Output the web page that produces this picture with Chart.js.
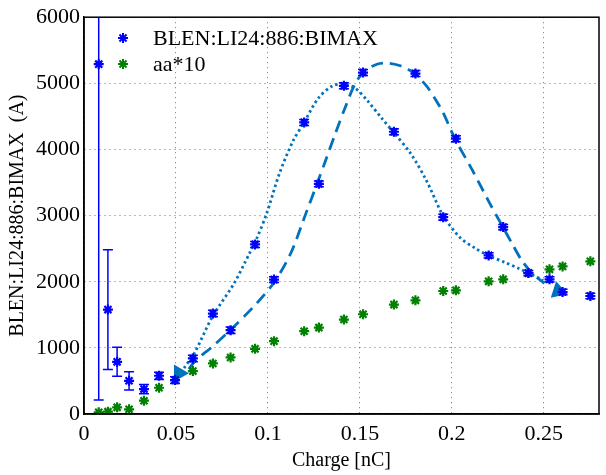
<!DOCTYPE html>
<html>
<head>
<meta charset="utf-8">
<script src="https://cdn.jsdelivr.net/npm/chart.js@4/dist/chart.umd.min.js"></script>
<style>
  html, body { margin: 0; padding: 0; background: #fff; overflow: hidden; }
</style>
</head>
<body>
<canvas id="chart" width="609" height="475"></canvas>
<script>
const charge = [0.008, 0.013, 0.018, 0.0245, 0.0326, 0.0408, 0.0495, 0.0592, 0.0701, 0.0797,
  0.093, 0.1033, 0.1197, 0.1277, 0.1413, 0.1517, 0.1685, 0.1802, 0.1953, 0.2022,
  0.22, 0.2279, 0.2416, 0.2531, 0.2602, 0.2753];
const blenMax = [5290, 1579, 789, 502, 377, 578, 513, 840, 1519, 1267,
  2564, 2032, 4409, 3480, 4962, 5163, 4268, 5148, 2976, 4163,
  2398, 2826, 2131, 2036, 1845, 1784];
const blenErr = [5080, 905, 220, 138, 70, 55, 50, 50, 50, 50,
  45, 45, 45, 45, 45, 45, 45, 45, 45, 45,
  40, 40, 40, 40, 40, 40];
const aa10 = [25, 35, 101, 71, 201, 397, 513, 649, 764, 855,
  985, 1101, 1252, 1307, 1428, 1508, 1654, 1719, 1860, 1870,
  2006, 2036, 2131, 2187, 2232, 2308];

// hand drawn guide curves
const dottedX = [0.0544, 0.0603, 0.0699, 0.0815, 0.0902, 0.0939, 0.0993, 0.1062, 0.1137, 0.1195,
  0.1275, 0.1350, 0.1409, 0.1473, 0.1542, 0.1617, 0.1686, 0.1777, 0.1862, 0.1937,
  0.1958, 0.2044, 0.2129, 0.2199, 0.2289, 0.2364, 0.2433, 0.2497];
const dottedY = [694, 935, 1477, 1970, 2442, 2653, 3030, 3633, 4131, 4402,
  4779, 4960, 4990, 4930, 4734, 4478, 4251, 3935, 3528, 3075,
  2970, 2668, 2503, 2397, 2292, 2201, 2111, 2020];
const dashedX = [0.0570, 0.0608, 0.0688, 0.0795, 0.0939, 0.1041, 0.1126, 0.1206, 0.1259, 0.1313,
  0.1366, 0.1419, 0.1473, 0.1526, 0.1596, 0.1649, 0.1724, 0.1793, 0.1862, 0.1916,
  0.1953, 0.2017, 0.2113, 0.2204, 0.2279, 0.2327, 0.2380, 0.2433, 0.2503];
const dashedY = [680, 814, 995, 1266, 1673, 2020, 2442, 3030, 3422, 3829,
  4236, 4628, 4990, 5186, 5292, 5307, 5262, 5156, 4960, 4734,
  4553, 4161, 3679, 3196, 2819, 2578, 2322, 2141, 1975];
const arrowX = [0.0516, 0.2578];
const arrowY = [618, 1860];

const xTicks = [0, 0.05, 0.1, 0.15, 0.2, 0.25];
const yTicks = [0, 1000, 2000, 3000, 4000, 5000, 6000];

const BLUE = 'rgb(0,0,255)';
const GREEN = 'rgb(0,128,0)';
const CURVE = 'rgb(0,114,189)';
const FONT = 'Liberation Serif';

const pts = (xs, ys) => xs.map((v, i) => ({x: v, y: ys[i]}));

function star(ctx, x, y, r) {
  ctx.beginPath();
  for (let a = 0; a < 4; a++) {
    const t = a * Math.PI / 4;
    ctx.moveTo(x - r * Math.cos(t), y - r * Math.sin(t));
    ctx.lineTo(x + r * Math.cos(t), y + r * Math.sin(t));
  }
  ctx.stroke();
}

const errorBars = {
  id: 'errorBars',
  beforeDatasetsDraw(chart) {
    const {ctx, chartArea: a, scales: {x, y}} = chart;
    ctx.save();
    ctx.beginPath();
    ctx.rect(a.left, a.top, a.right - a.left, a.bottom - a.top);
    ctx.clip();
    ctx.strokeStyle = BLUE;
    ctx.lineWidth = 1.5;
    charge.forEach((c, i) => {
      const px = x.getPixelForValue(c);
      const top = y.getPixelForValue(blenMax[i] + blenErr[i]);
      const bot = y.getPixelForValue(blenMax[i] - blenErr[i]);
      ctx.beginPath();
      ctx.moveTo(px, top); ctx.lineTo(px, bot);
      ctx.moveTo(px - 5, top); ctx.lineTo(px + 5, top);
      ctx.moveTo(px - 5, bot); ctx.lineTo(px + 5, bot);
      ctx.stroke();
    });
    ctx.restore();
  }
};

const frameAndLegend = {
  id: 'frameAndLegend',
  afterDraw(chart) {
    const {ctx, chartArea: a} = chart;
    ctx.save();
    ctx.strokeStyle = '#000';
    ctx.lineWidth = 1.5;
    ctx.strokeRect(a.left, a.top, a.right - a.left, a.bottom - a.top);
    ctx.font = '22px "' + FONT + '"';
    ctx.textBaseline = 'middle';
    ctx.fillStyle = '#000';
    chart.data.datasets.slice(0, 2).forEach((ds, i) => {
      const y = 38 + i * 26;
      ctx.strokeStyle = ds.borderColor;
      ctx.lineWidth = 2;
      star(ctx, 123, y, 5);
      ctx.fillText(ds.label, 153, y + 1);
    });
    ctx.restore();
  }
};

new Chart(document.getElementById('chart'), {
  type: 'scatter',
  data: {
    datasets: [
      {
        label: 'BLEN:LI24:886:BIMAX',
        data: pts(charge, blenMax),
        pointStyle: 'star', pointRadius: 5, borderWidth: 2.2,
        borderColor: BLUE, backgroundColor: BLUE
      },
      {
        label: 'aa*10',
        data: pts(charge, aa10),
        pointStyle: 'star', pointRadius: 5, borderWidth: 2.2,
        borderColor: GREEN, backgroundColor: GREEN
      },
      {
        label: 'dotted',
        type: 'line',
        data: pts(dottedX, dottedY),
        borderColor: CURVE, borderWidth: 2.8, borderDash: [2.5, 3],
        pointRadius: 0, tension: 0.3, fill: false
      },
      {
        label: 'dashed',
        type: 'line',
        data: pts(dashedX, dashedY),
        borderColor: CURVE, borderWidth: 2.8, borderDash: [12, 7],
        pointRadius: 0, tension: 0.3, fill: false
      },
      {
        label: 'arrows',
        data: pts(arrowX, arrowY),
        pointStyle: 'triangle', pointRadius: 10, pointRotation: [90, -12],
        borderWidth: 0, backgroundColor: CURVE, borderColor: CURVE
      }
    ]
  },
  options: {
    responsive: false,
    animation: false,
    layout: {padding: {top: 16, right: 0, left: 0, bottom: 0}},
    plugins: {legend: {display: false}, tooltip: {enabled: false}},
    scales: {
      x: {
        type: 'linear', min: 0, max: 0.28,
        afterBuildTicks: (s) => { s.ticks = xTicks.map((v) => ({value: v})); },
        afterFit: (s) => { s.height = 61; },
        grid: {color: 'rgba(0,0,0,0.55)', drawTicks: false},
        border: {color: '#000', width: 1.5, dash: [1, 4]},
        ticks: {
          color: '#000', padding: 7, maxRotation: 0,
          font: {family: FONT, size: 22},
          callback: (v) => String(v)
        },
        title: {
          display: true, text: 'Charge [nC]', color: '#000',
          font: {family: FONT, size: 20}, padding: {top: 0, bottom: 2}
        }
      },
      y: {
        type: 'linear', min: 0, max: 6000,
        afterBuildTicks: (s) => { s.ticks = yTicks.map((v) => ({value: v})); },
        afterFit: (s) => { s.width = 84; },
        grid: {color: 'rgba(0,0,0,0.55)', drawTicks: false},
        border: {color: '#000', width: 1.5, dash: [1, 4]},
        ticks: {
          color: '#000', padding: 4,
          font: {family: FONT, size: 22},
          callback: (v) => String(v)
        },
        title: {
          display: true, text: 'BLEN:LI24:886:BIMAX  (A)', color: '#000',
          font: {family: FONT, size: 20}, padding: {top: 6, bottom: 0}
        }
      }
    }
  },
  plugins: [errorBars, frameAndLegend]
});
</script>
</body>
</html>
